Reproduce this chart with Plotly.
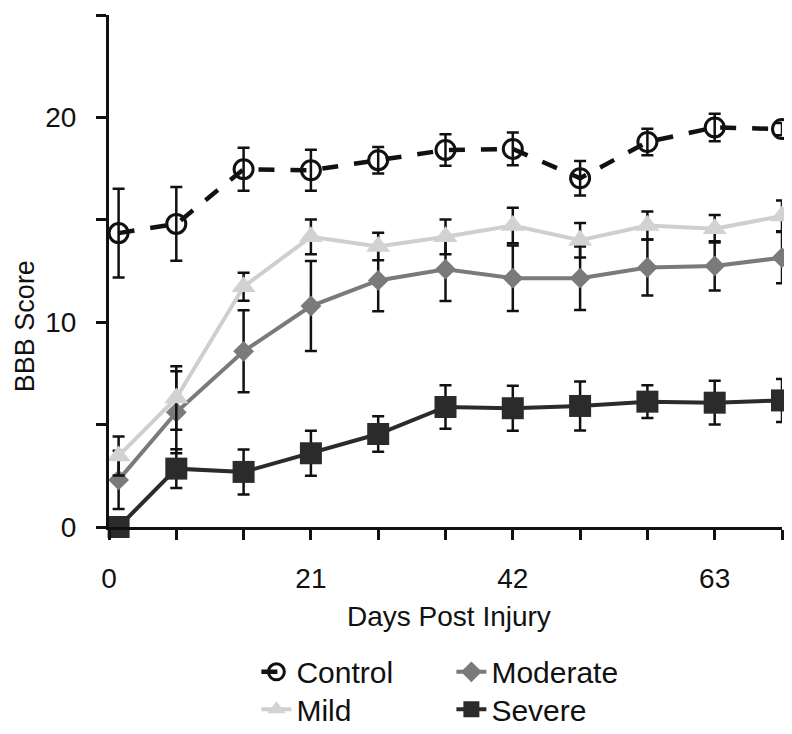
import plotly.graph_objects as go

days = [1, 7, 14, 21, 28, 35, 42, 49, 56, 63, 70]

control = [14.35, 14.8, 17.47, 17.42, 17.91, 18.41, 18.46, 17.03, 18.8, 19.51, 19.43]
control_err = [2.17, 1.8, 1.05, 1.0, 0.65, 0.77, 0.8, 0.84, 0.65, 0.67, 0.3]

mild = [3.47, 6.3, 11.73, 14.17, 13.7, 14.17, 14.72, 14.0, 14.72, 14.56, 15.19]
mild_err = [0.95, 1.55, 0.68, 0.85, 0.67, 0.85, 0.87, 0.84, 0.68, 0.67, 0.75]

moderate = [2.3, 5.6, 8.58, 10.79, 12.04, 12.59, 12.15, 12.15, 12.67, 12.75, 13.15]
moderate_err = [1.42, 2.0, 2.0, 2.2, 1.5, 1.55, 1.6, 1.55, 1.37, 1.2, 1.25]

severe = [0.0, 2.85, 2.69, 3.6, 4.54, 5.86, 5.8, 5.91, 6.12, 6.07, 6.18]
severe_err = [0.0, 0.95, 1.1, 1.1, 0.87, 1.06, 1.1, 1.2, 0.8, 1.07, 1.05]

x_tickvals = [0, 7, 14, 21, 28, 35, 42, 49, 56, 63, 70]
x_ticktext = ["0", "", "", "21", "", "", "42", "", "", "63", ""]
y_tickvals = [0, 5, 10, 15, 20, 25]
y_ticktext = ["0", "", "10", "", "20", ""]

FONT = "Liberation Sans, Arial, sans-serif"
INK = "#111111"

def err(vals):
    return dict(type="data", array=vals, visible=True, color=INK,
                thickness=2.5, width=6)

fig = go.Figure()

fig.add_trace(go.Scatter(
    x=days, y=severe, name="Severe", mode="lines+markers",
    line=dict(color="#2b2b2b", width=4),
    marker=dict(symbol="square", size=22, color="#2b2b2b"),
    error_y=err(severe_err), cliponaxis=False, legend="legend2", legendrank=2))

fig.add_trace(go.Scatter(
    x=days, y=moderate, name="Moderate", mode="lines+markers",
    line=dict(color="#7a7a7a", width=4),
    marker=dict(symbol="diamond", size=16, color="#7a7a7a"),
    error_y=err(moderate_err), cliponaxis=False, legend="legend", legendrank=2))

fig.add_trace(go.Scatter(
    x=days, y=mild, name="Mild", mode="lines+markers",
    line=dict(color="#cfcfcf", width=4),
    marker=dict(symbol="triangle-up", size=21, color="#d2d2d2"),
    error_y=err(mild_err), cliponaxis=False, legend="legend2", legendrank=1))

fig.add_trace(go.Scatter(
    x=days, y=control, name="Control", mode="lines+markers",
    line=dict(color=INK, width=4.5, dash="16px,16px"),
    marker=dict(symbol="circle-open", size=19, color=INK, line=dict(width=3, color=INK)),
    error_y=err(control_err), cliponaxis=False, legend="legend", legendrank=1))

legend_common = dict(orientation="h", xanchor="left", yanchor="top",
                     entrywidth=150, entrywidthmode="pixels",
                     font=dict(size=30, family=FONT, color=INK),
                     bgcolor="rgba(0,0,0,0)", itemwidth=30)

fig.update_layout(
    width=792, height=734,
    margin=dict(l=101, r=18, t=7, b=197),
    paper_bgcolor="white", plot_bgcolor="white",
    font=dict(family=FONT, size=28, color=INK),
    showlegend=True,
    legend=dict(x=0.219, y=-0.232, **legend_common),
    legend2=dict(x=0.219, y=-0.305, **legend_common),
    xaxis=dict(range=[0, 70], tickvals=x_tickvals, ticktext=x_ticktext,
               showline=True, linecolor=INK, linewidth=3,
               ticks="outside", ticklen=10, tickwidth=3, tickcolor=INK,
               showgrid=False, zeroline=False, ticklabelstandoff=14,
               tickfont=dict(size=28, family=FONT, color=INK)),
    yaxis=dict(range=[0, 25], tickvals=y_tickvals, ticktext=y_ticktext,
               showline=True, linecolor=INK, linewidth=3,
               ticks="outside", ticklen=10, tickwidth=3, tickcolor=INK,
               showgrid=False, zeroline=False, ticklabelstandoff=14,
               tickfont=dict(size=28, family=FONT, color=INK)),
    annotations=[
        dict(text="Days Post Injury", xref="paper", yref="paper",
             x=0.505, y=-0.175, xanchor="center", yanchor="middle",
             showarrow=False, font=dict(size=28, family=FONT, color=INK)),
        dict(text="BBB Score", xref="paper", yref="paper",
             x=-0.125, y=0.392, xanchor="center", yanchor="middle", textangle=-90,
             showarrow=False, font=dict(size=27, family=FONT, color=INK)),
    ],
)

fig.write_html("out.html")
